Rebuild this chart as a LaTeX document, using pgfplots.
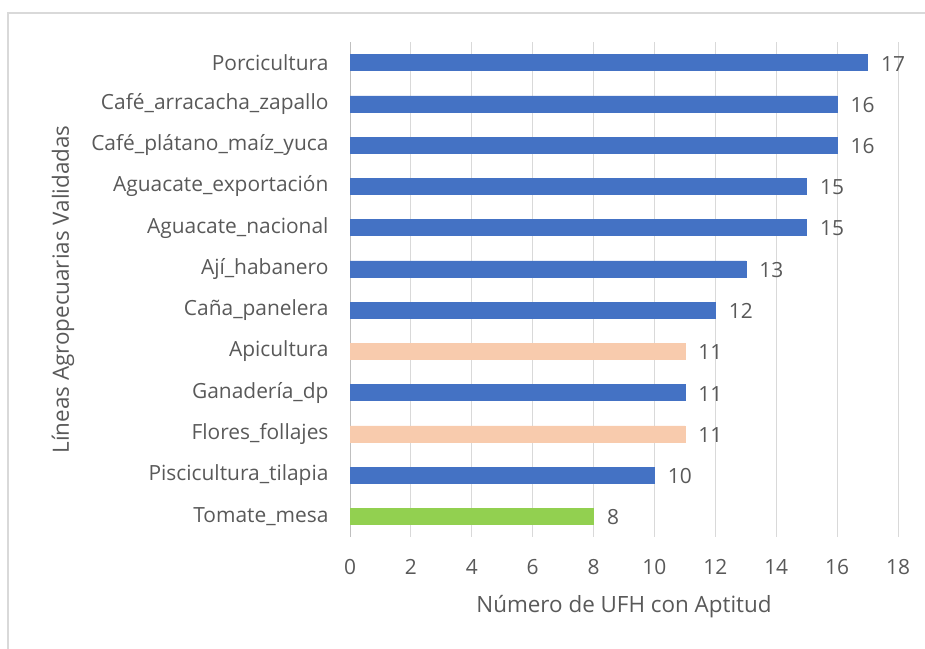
\documentclass[border=0pt]{standalone}
\usepackage{fontspec}
\setmainfont{Open Sans}
\usepackage{pgfplots}
\pgfplotsset{compat=1.18}
\definecolor{barblue}{HTML}{4472C4}
\definecolor{barpeach}{HTML}{F8CBAD}
\definecolor{bargreen}{HTML}{92D050}
\definecolor{gridgray}{HTML}{D9D9D9}
\definecolor{axisgray}{HTML}{BFBFBF}
\definecolor{textgray}{HTML}{595959}
\definecolor{framegray}{HTML}{D9D9D9}

\begin{document}
\begin{tikzpicture}[x=1bp,y=1bp]
\useasboundingbox (0,0) rectangle (925,649);
\draw[framegray, line width=1.5bp] (8,0) -- (8,636) -- (925,636);
\begin{axis}[
    at={(350bp,112bp)}, anchor=south west,
    scale only axis, width=548bp, height=495bp,
    xbar, bar width=16bp, bar shift=0pt,
    xmin=0, xmax=18, ymin=-0.5, ymax=11.5,
    xtick={0,2,...,18}, ytick={0,...,11},
    yticklabels={Tomate\_mesa, Piscicultura\_tilapia, Flores\_follajes,
        Ganadería\_dp, Apicultura, Caña\_panelera, Ají\_habanero,
        Aguacate\_nacional, Aguacate\_exportación, Café\_plátano\_maíz\_yuca,
        Café\_arracacha\_zapallo, Porcicultura},
    axis lines*=left,
    x axis line style={draw=none},
    y axis line style={draw=axisgray, line width=1bp},
    xmajorgrids, grid style={gridgray, line width=1bp},
    major tick length=0pt,
    /pgf/number format/assume math mode=true,
    ticklabel style={font=\fontsize{21}{24}\selectfont, text=textgray},
    xticklabel style={yshift=-19bp},
    yticklabel style={xshift=-18bp},
    xlabel={Número de UFH con Aptitud},
    ylabel={Líneas Agropecuarias Validadas},
    label style={font=\fontsize{22.5}{26}\selectfont, text=textgray},
    xlabel style={at={(axis description cs:0.5,0)}, anchor=center, yshift=-70bp},
    ylabel style={at={(axis description cs:-0.5237,0.5)}, anchor=center},
    nodes near coords,
    nodes near coords style={font=\fontsize{21}{24}\selectfont, text=textgray,
        anchor=west, xshift=10bp, yshift=-1bp},
]
\addplot[fill=barblue, draw=barblue] coordinates {
    (17,11) (16,10) (16,9) (15,8) (15,7) (13,6) (12,5) (11,3) (10,1)
};
\addplot[fill=barpeach, draw=barpeach] coordinates {
    (11,4) (11,2)
};
\addplot[fill=bargreen, draw=bargreen] coordinates {
    (8,0)
};
\end{axis}
\end{tikzpicture}
\end{document}
